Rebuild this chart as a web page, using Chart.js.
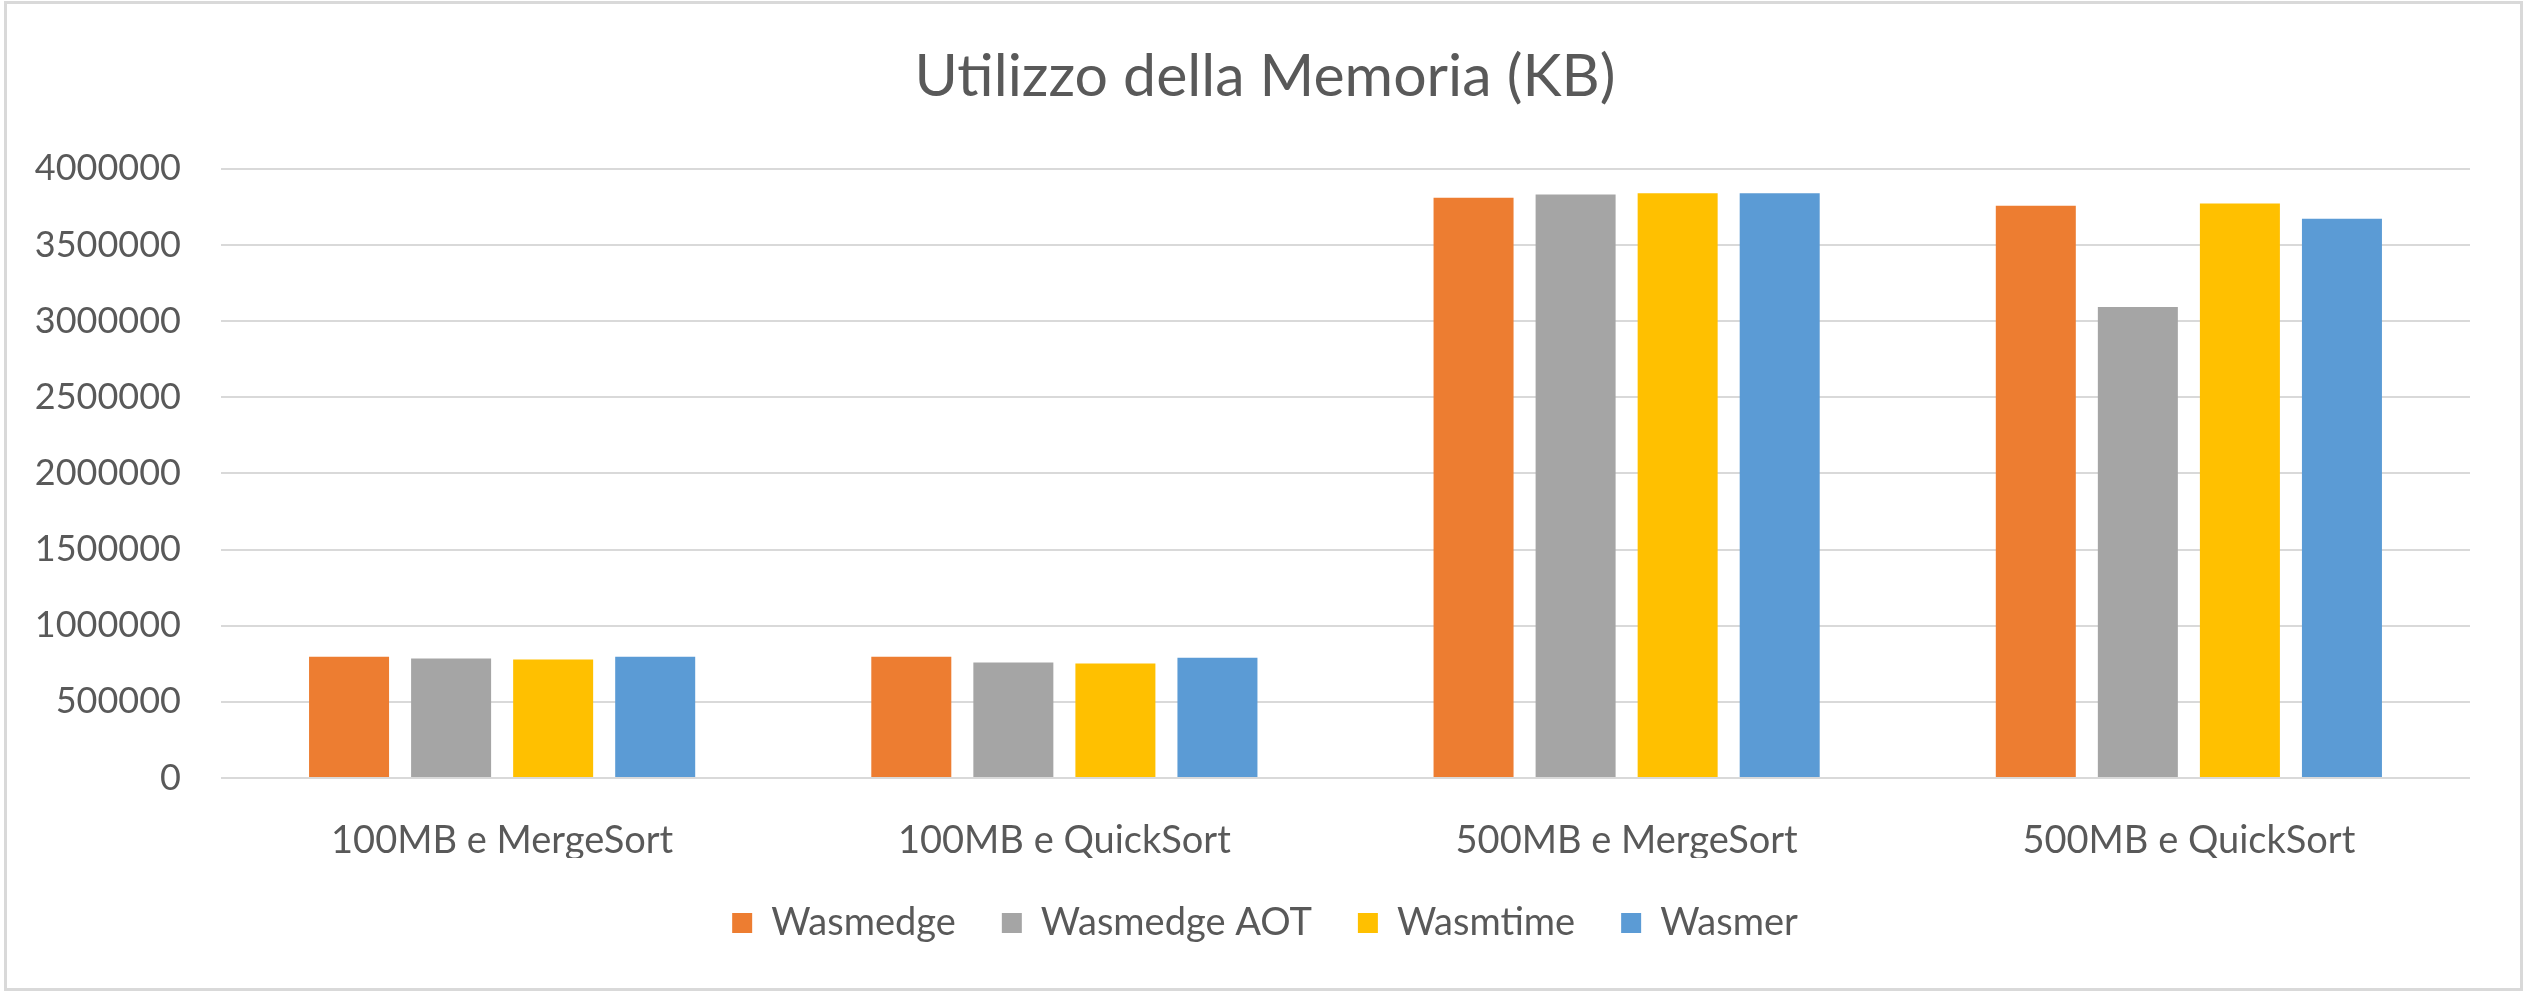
<!DOCTYPE html>
<html>
<head>
<meta charset="utf-8">
<script src="https://cdn.jsdelivr.net/npm/chart.js@4.4.1/dist/chart.umd.min.js"></script>
<style>
  html, body { margin: 0; padding: 0; background: #fff; }
  #wrap { width: 2530px; height: 999px; position: relative; }
</style>
</head>
<body>
<div id="wrap"><canvas id="memChart" width="2530" height="999"></canvas></div>
<script>
// categorie e serie (KB)
const categorie = ['100MB e MergeSort', '100MB e QuickSort', '500MB e MergeSort', '500MB e QuickSort'];
const serieNomi = ['Wasmedge', 'Wasmedge AOT', 'Wasmtime', 'Wasmer'];
const wasmedge    = [796000, 796000, 3810000, 3757000];
const wasmedgeAot = [785000, 758000, 3832000, 3093000];
const wasmtime    = [778000, 752000, 3840000, 3772000];
const wasmer      = [796000, 789000, 3840000, 3672000];
const colori = ['#ED7D31', '#A5A5A5', '#FFC000', '#5B9BD5'];
const yMax = 4000000;
const yStep = 500000;

const testo = '#595959';
const griglia = '#D9D9D9';

// cornice grigia attorno al grafico
const cornice = {
  id: 'cornice',
  beforeDraw(chart) {
    const c = chart.ctx;
    c.save();
    c.fillStyle = '#fff';
    c.fillRect(0, 0, chart.width, chart.height);
    c.strokeStyle = griglia;
    c.lineWidth = 3;
    c.strokeRect(5.5, 2.5, 2516, 987);
    c.restore();
  }
};

const serie = [wasmedge, wasmedgeAot, wasmtime, wasmer];

new Chart(document.getElementById('memChart').getContext('2d'), {
  type: 'bar',
  data: {
    labels: categorie,
    datasets: serie.map((d, i) => ({
      label: serieNomi[i],
      data: d,
      backgroundColor: colori[i],
      borderWidth: 0,
      categoryPercentage: 0.726,
      barPercentage: 0.784
    }))
  },
  options: {
    responsive: false,
    animation: false,
    devicePixelRatio: 1,
    layout: {
      padding: { left: 10, right: 10, top: 0, bottom: 47 }
    },
    plugins: {
      title: {
        display: true,
        text: 'Utilizzo della Memoria (KB)',
        color: testo,
        font: { family: 'Lato', size: 59, weight: 'normal' },
        padding: { top: 42, bottom: 56 }
      },
      legend: {
        position: 'bottom',
        labels: {
          color: testo,
          font: { family: 'Lato', size: 38 },
          boxWidth: 20,
          boxHeight: 20,
          padding: 46
        }
      },
      tooltip: { enabled: false }
    },
    scales: {
      x: {
        grid: { display: false },
        border: { display: false },
        ticks: {
          color: testo,
          font: { family: 'Lato', size: 38 },
          padding: 32
        },
        afterFit(scale) { scale.height = 80; }
      },
      y: {
        min: 0,
        max: yMax,
        border: { display: false },
        grid: { color: griglia, lineWidth: 2, drawTicks: false },
        ticks: {
          stepSize: yStep,
          color: testo,
          font: { family: 'Lato', size: 36 },
          padding: 40,
          callback: v => String(v)
        },
        afterFit(scale) { scale.width = 211; }
      },
      // asse vuoto a destra, solo per lasciare il margine
      destra: {
        type: 'linear',
        position: 'right',
        grid: { display: false },
        border: { display: false },
        ticks: { display: false },
        afterFit(scale) { scale.width = 50; }
      }
    }
  },
  plugins: [cornice]
});
</script>
</body>
</html>
